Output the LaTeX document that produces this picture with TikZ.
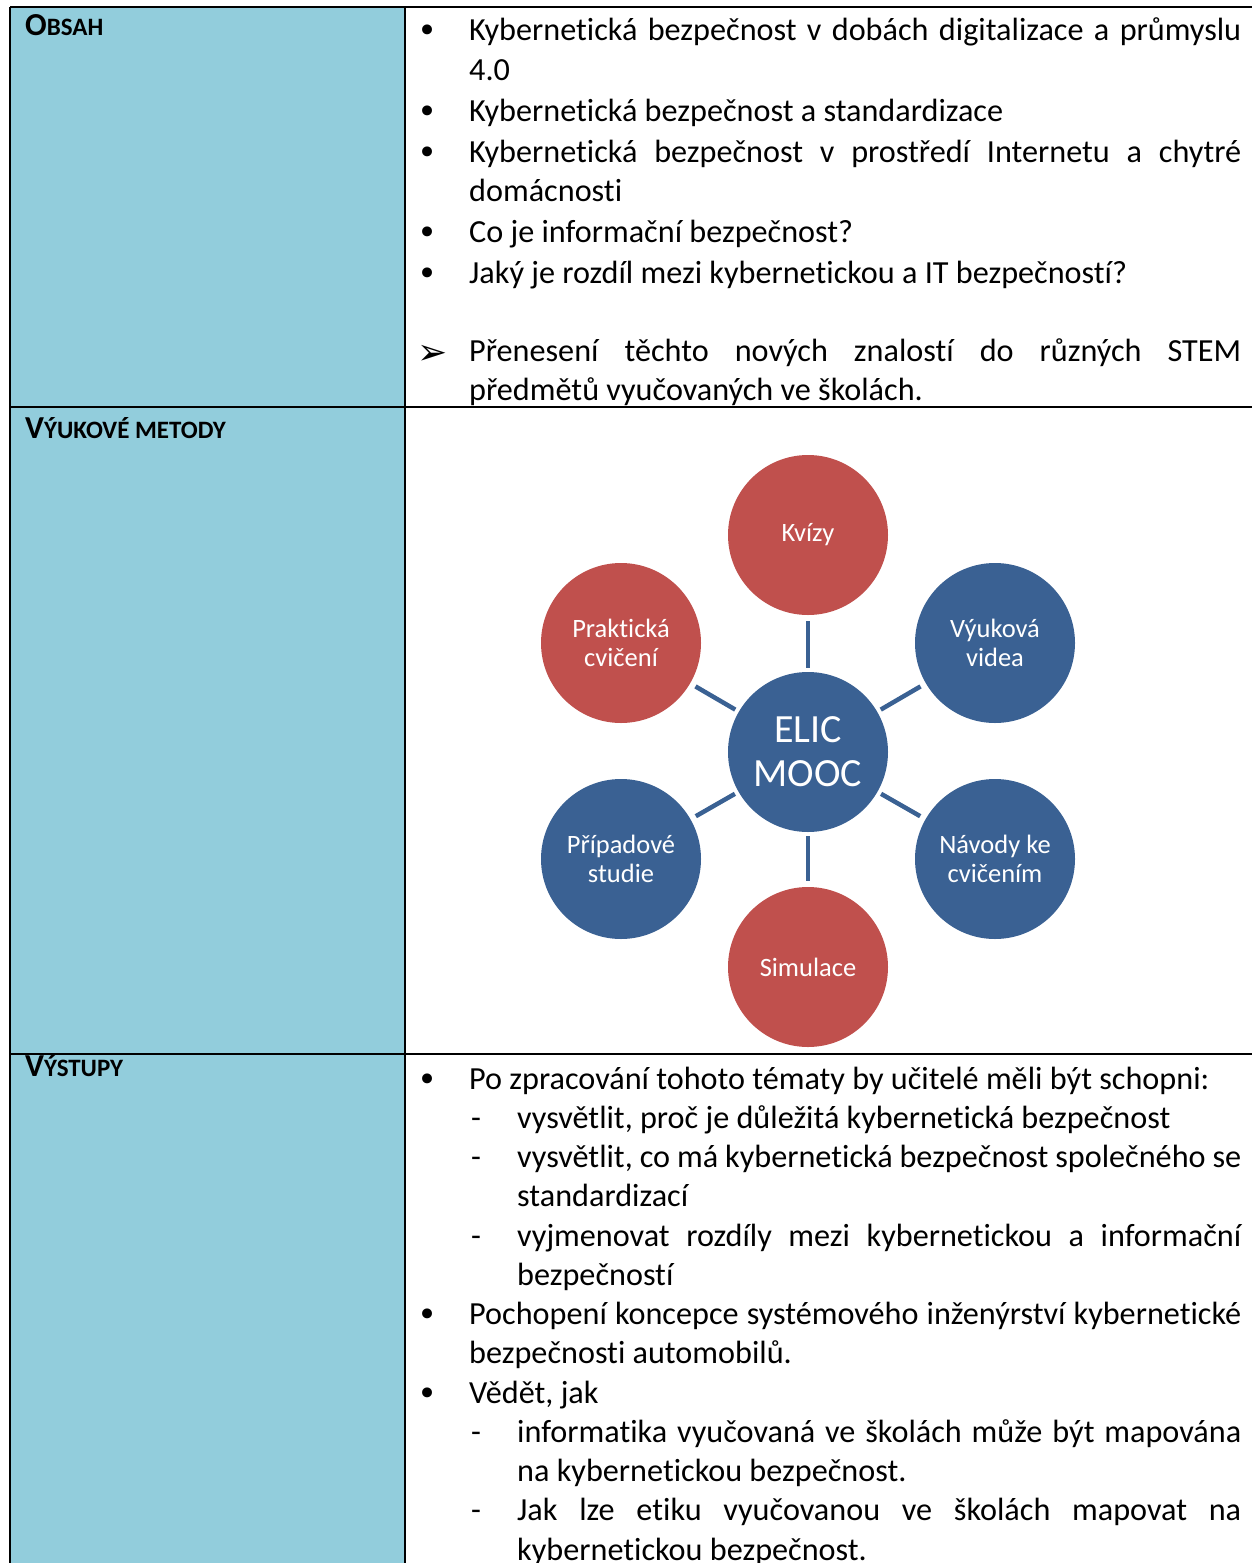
\documentclass[tikz,border=0pt]{standalone}
\usepackage{fontspec}
\setmainfont{Carlito}[Ligatures={NoCommon}]
\newfontfamily\symfont{DejaVu Sans}

\definecolor{headblue}{HTML}{92CDDC}
\definecolor{discred}{HTML}{C0504D}
\definecolor{discblue}{HTML}{3A6193}

% full-width justified line and sub-item justified line
\newcommand\fullj[1]{\makebox[772pt][s]{#1}}
\newcommand\subj[1]{\makebox[724pt][s]{#1}}
% header in small capitals
\newcommand\hcap[2]{{\fontsize{32}{32}\selectfont #1}{\fontsize{25}{25}\selectfont #2}}

\begin{document}
\begin{tikzpicture}[x=1pt,y=-1pt,
  rule/.style={line width=2.4pt, black},
  head/.style={inner sep=0pt, anchor=base west, font=\bfseries},
  body/.style={inner sep=0pt, anchor=base west, yshift=-2pt, font=\fontsize{32.2}{39}\selectfont},
  bul/.style={inner sep=0pt, anchor=base, yshift=-2pt, font=\symfont\fontsize{34}{34}\selectfont},
  dashmark/.style={inner sep=0pt, anchor=base west, yshift=-2pt, font=\fontsize{32.2}{39}\selectfont},
  disc/.style={circle, minimum size=160pt, inner sep=0pt, text=white, align=center,
    font=\fontsize{26.5}{29}\selectfont},
  conn/.style={line width=4.5pt, discblue, shorten <=4pt, shorten >=6pt}]
\useasboundingbox (0,0) rectangle (1252,1563);

% left label column
\fill[headblue] (10,7) rectangle (405,1563);

% table rules
\draw[rule] (10,7) -- (1252,7);
\draw[rule] (10,7) -- (10,1563);
\draw[rule] (405,7) -- (405,1563);
\draw[rule] (10,407) -- (1252,407);
\draw[rule] (10,1054) -- (1252,1054);

% row headers
\node[head] (h1) at (25,36) {\hcap{O}{BSAH}};
\node[head] (h2) at (25,438) {\hcap{V}{ÝUKOVÉ METODY}};
\node[head] (h3) at (25,1076) {\hcap{V}{ÝSTUPY}};

% contents
\node[bul] (b1) at (428,41) {•};
\node[body] (t1) at (469,39) {\fullj{Kybernetická bezpečnost v dobách digitalizace a průmyslu}};
\node[body] (t2) at (469,79) {4.0};
\node[bul] (b2) at (428,121) {•};
\node[body] (t3) at (469,119) {Kybernetická bezpečnost a standardizace};
\node[bul] (b3) at (428,162) {•};
\node[body] (t4) at (469,160) {\fullj{Kybernetická bezpečnost v prostředí Internetu a chytré}};
\node[body] (t5) at (469,199) {domácnosti};
\node[bul] (b4) at (428,242) {•};
\node[body] (t6) at (469,240) {Co je informační bezpečnost?};
\node[bul] (b5) at (428,283) {•};
\node[body] (t7) at (469,281) {Jaký je rozdíl mezi kybernetickou a IT bezpečností?};
\node[inner sep=0pt, anchor=base, font=\symfont\fontsize{36}{36}\selectfont] (a1) at (433,364) {➢};
\node[body] (t8) at (469,359) {\fullj{Přenesení těchto nových znalostí do různých STEM}};
\node[body] (t9) at (469,398) {předmětů vyučovaných ve školách.};

% teaching methods
\node[disc, fill=discblue, font=\fontsize{40}{44}\selectfont] (elic) at (808,752) {ELIC\\MOOC};
\node[disc, fill=discred] (kv) at (808,535) {Kvízy};
\node[disc, fill=discblue] (vv) at (995,643) {Výuková\\videa};
\node[disc, fill=discblue] (nc) at (995,859) {Návody ke\\cvičením};
\node[disc, fill=discred] (si) at (808,967) {Simulace};
\node[disc, fill=discblue] (ps) at (621,859) {Případové\\studie};
\node[disc, fill=discred] (pc) at (621,643) {Praktická\\cvičení};
\foreach \n in {kv,vv,nc,si,ps,pc} \draw[conn] (elic) -- (\n);

% outcomes
\node[bul] (c1) at (428,1089) {•};
\node[body] (u1) at (469,1087) {Po zpracování tohoto tématy by učitelé měli být schopni:};
\node[dashmark] (d1) at (471,1126.25) {-};
\node[body] (u2) at (517,1126.25) {vysvětlit, proč je důležitá kybernetická bezpečnost};
\node[dashmark] (d2) at (471,1165.5) {-};
\node[body] (u3) at (517,1165.5) {\subj{vysvětlit, co má kybernetická bezpečnost společného se}};
\node[body] (u4) at (517,1204.75) {standardizací};
\node[dashmark] (d3) at (471,1244) {-};
\node[body] (u5) at (517,1244) {\subj{vyjmenovat rozdíly mezi kybernetickou a informační}};
\node[body] (u6) at (517,1283.25) {bezpečností};
\node[bul] (c2) at (428,1324.5) {•};
\node[body] (u7) at (469,1322.5) {\fullj{Pochopení koncepce systémového inženýrství kybernetické}};
\node[body] (u8) at (469,1361.75) {bezpečnosti automobilů.};
\node[bul] (c3) at (428,1403) {•};
\node[body] (u9) at (469,1401) {Vědět, jak};
\node[dashmark] (d4) at (471,1440.25) {-};
\node[body] (u10) at (517,1440.25) {\subj{informatika vyučovaná ve školách může být mapována}};
\node[body] (u11) at (517,1479.5) {na kybernetickou bezpečnost.};
\node[dashmark] (d5) at (471,1518.75) {-};
\node[body] (u12) at (517,1518.75) {\subj{Jak lze etiku vyučovanou ve školách mapovat na}};
\node[body] (u13) at (517,1558) {kybernetickou bezpečnost.};
\end{tikzpicture}
\end{document}
